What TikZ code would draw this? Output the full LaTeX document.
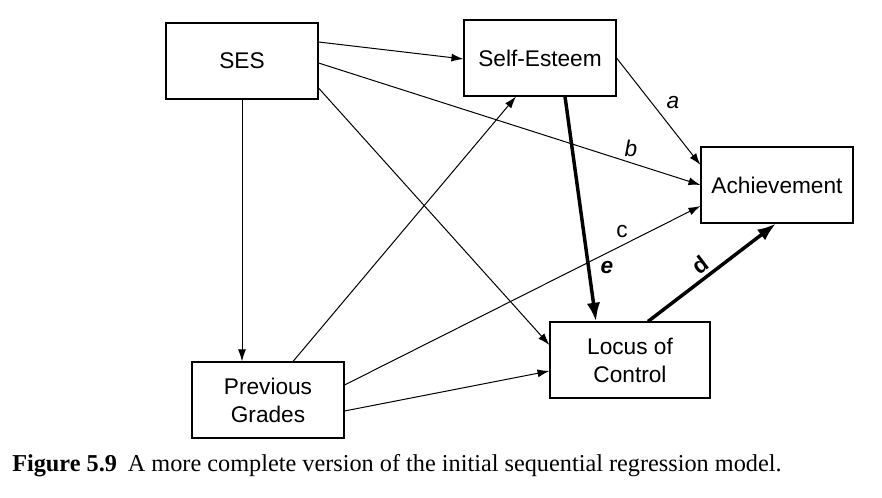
\documentclass[tikz,border=0pt]{standalone}
\usepackage{fontspec}
\setmainfont{Liberation Serif}
\setsansfont{Liberation Sans}
\usetikzlibrary{arrows.meta,calc}
\tikzset{
    var/.style ={
        shape=rectangle,
        draw=black,
        line width=0.8pt,
        minimum width=114pt,
        minimum height=57pt,
        align=center,
        font=\sffamily\fontsize{17}{21}\selectfont
    },
    path/.style ={
        line width=0.75pt,
        -{Latex[length=9pt,width=6pt]}
    },
    heavy/.style ={
        line width=2.6pt,
        -{Latex[length=14pt,width=10pt]}
    },
    coef/.style ={
        font=\sffamily\fontsize{17}{21}\selectfont
    }
}
\begin{document}
\begin{tikzpicture}[x=0.75pt,y=-0.75pt]
    \useasboundingbox (0,0) rectangle (882,498);
    \node[var] (ses) at (242,61) {SES};
    \node[var] (esteem) at (540,58) {Self-Esteem};
    \node[var] (ach) at (777,185) {Achievement};
    \node[var,minimum width=120pt] (locus) at (630,360) {Locus of\\Control};
    \node[var] (grades) at (268,400) {Previous\\Grades};
    % paths from SES
    \draw[path] ($(ses.east)+(0,-19)$) -- ($(esteem.west)+(0,1)$);
    \draw[path] ($(ses.east)+(0,2)$) -- (ach.west);
    \draw[path] ($(ses.east)+(0,27)$) -- ($(locus.west)+(0,-15)$);
    \draw[path] (ses.south) -- ($(grades.north)+(-26,0)$);
    % paths from previous grades
    \draw[path] ($(grades.north)+(25,0)$) -- ($(esteem.south)+(-24,0)$);
    \draw[path] ($(grades.east)+(0,-15)$) -- ($(ach.west)+(0,21)$);
    \draw[path] ($(grades.east)+(0,11)$) -- ($(locus.west)+(0,11)$);
    % paths to achievement
    \draw[path] ($(esteem.east)+(0,0)$) -- ($(ach.west)+(0,-20)$);
    \draw[heavy] ($(esteem.south)+(25,0)$) -- ($(locus.north)+(-34,0)$);
    \draw[heavy] ($(locus.north)+(18,0)$) -- ($(ach.south)+(-1,0)$);
    % coefficient labels
    \node[coef,font=\sffamily\itshape\fontsize{17}{21}\selectfont] (la) at (673,103) {a};
    \node[coef,font=\sffamily\itshape\fontsize{17}{21}\selectfont] (lb) at (631,148) {b};
    \node[coef] (lc) at (622,232) {c};
    \node[coef,font=\sffamily\bfseries\fontsize{17}{21}\selectfont,rotate=37] (ld) at (700,265) {d};
    \node[coef,font=\sffamily\bfseries\itshape\fontsize{17}{21}\selectfont] (le) at (607,268) {e};
    % caption
    \node[anchor=base west,inner sep=0pt,font=\fontsize{18.2}{22}\selectfont] (cap) at (12,472)
        {\textbf{Figure 5.9}\hspace{0.45em}A more complete version of the initial sequential regression model.};
\end{tikzpicture}
\end{document}
